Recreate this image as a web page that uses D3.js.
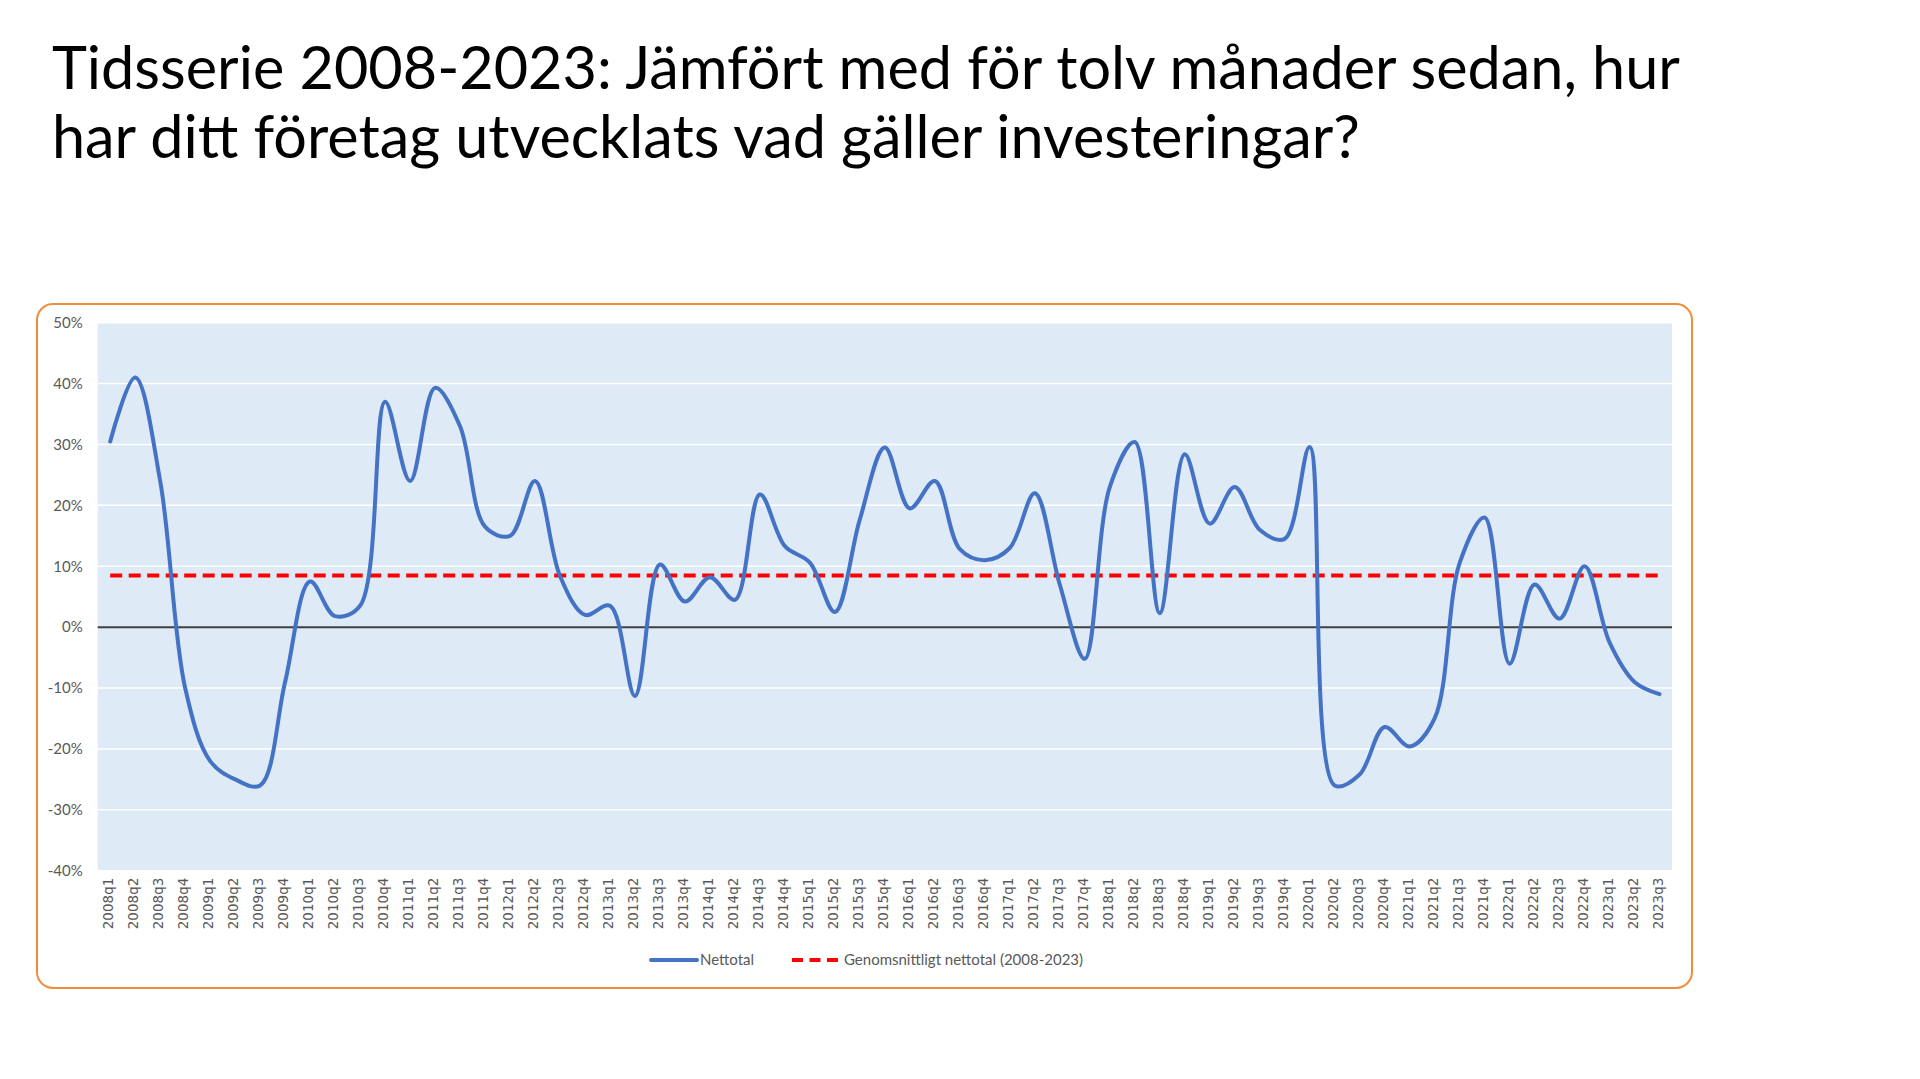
<!DOCTYPE html>
<html>
<head>
<meta charset="utf-8">
<script src="https://cdn.jsdelivr.net/npm/d3@7"></script>
<style>
  body { margin: 0; background: #ffffff; }
  svg { display: block; }
  .y-label { font-family: Lato, "Open Sans", sans-serif; font-size: 15px; fill: #595959; }
  .x-label { font-family: "DejaVu Sans", sans-serif; font-size: 13.5px; fill: #595959; }
  .legend-text { font-family: Lato, "Open Sans", sans-serif; font-size: 15px; fill: #595959; }
  .title { font-family: Lato, "Open Sans", sans-serif; fill: #000000; }
</style>
</head>
<body>
<svg id="svg" width="1920" height="1079"></svg>
<script>
// quarters on the x axis
var quarters = [
  "2008q1", "2008q2", "2008q3", "2008q4",
  "2009q1", "2009q2", "2009q3", "2009q4",
  "2010q1", "2010q2", "2010q3", "2010q4",
  "2011q1", "2011q2", "2011q3", "2011q4",
  "2012q1", "2012q2", "2012q3", "2012q4",
  "2013q1", "2013q2", "2013q3", "2013q4",
  "2014q1", "2014q2", "2014q3", "2014q4",
  "2015q1", "2015q2", "2015q3", "2015q4",
  "2016q1", "2016q2", "2016q3", "2016q4",
  "2017q1", "2017q2", "2017q3", "2017q4",
  "2018q1", "2018q2", "2018q3", "2018q4",
  "2019q1", "2019q2", "2019q3", "2019q4",
  "2020q1", "2020q2", "2020q3", "2020q4",
  "2021q1", "2021q2", "2021q3", "2021q4",
  "2022q1", "2022q2", "2022q3", "2022q4",
  "2023q1", "2023q2", "2023q3"
];

// Nettotal, in percent
var nettotal = [
  30.5, 41, 24, -10,
  -22, -25, -26, -9,
  7.5, 1.8, 3.5, 37,
  24, 39.3, 33, 16.5,
  15, 24, 8.4, 2,
  3.5, -11.3, 10.3, 4.2,
  8.2, 4.5, 21.8, 13.3,
  10.6, 2.5, 17.7, 29.5,
  19.5, 24, 12.8, 11,
  13, 22, 7, -5.2,
  23, 30.4, 2.3, 28.4,
  17, 23, 16, 14.5,
  29.6, -26, -24.2, -16.4,
  -19.6, -15, 10.5, 18,
  -6, 7, 1.4, 10,
  -2.5, -9, -11
];

// Genomsnittligt nettotal (2008-2023), in percent
var average = 8.5;

var yTicks = [-40, -30, -20, -10, 0, 10, 20, 30, 40, 50];

var titleLines = [
  "Tidsserie 2008-2023: Jämfört med för tolv månader sedan, hur",
  "har ditt företag utvecklats vad gäller investeringar?"
];

var seriesNames = ["Nettotal", "Genomsnittligt nettotal (2008-2023)"];

var blue = "#4472c4";
var red = "#ff0000";

var svg = d3.select("#svg");

// title
var drawTitle = function() {
    var fontSize = 66;
    var t1 = svg.append("text")
        .attr("class", "title")
        .attr("x", 52)
        .attr("y", 89)
        .attr("font-size", fontSize)
        .text(titleLines[0]);
    // fit line 1 to the width seen in the picture
    var w = t1.node().getComputedTextLength();
    fontSize = fontSize * 1628 / w;
    t1.attr("font-size", fontSize);
    svg.append("text")
        .attr("class", "title")
        .attr("x", 52)
        .attr("y", 158)
        .attr("font-size", fontSize)
        .text(titleLines[1]);
}

var drawChart = function() {
    var left = 97.7, right = 1672, top = 322.7, bottom = 870.7;

    // chart frame
    svg.append("rect")
        .attr("x", 37)
        .attr("y", 304)
        .attr("width", 1692 - 37)
        .attr("height", 988 - 304)
        .attr("rx", 16)
        .attr("fill", "#ffffff")
        .attr("stroke", "#f28c3a")
        .attr("stroke-width", 2);

    var xScale = d3.scalePoint()
        .domain(quarters)
        .range([left, right])
        .padding(0.5);

    var yScale = d3.scaleLinear()
        .domain([-40, 50])
        .range([bottom, top]);

    // plot background
    svg.append("rect")
        .attr("x", left)
        .attr("y", top)
        .attr("width", right - left)
        .attr("height", bottom - top)
        .attr("fill", "#deeaf6");

    // gridlines
    svg.append("g")
        .selectAll("line")
        .data(yTicks.filter(function(d) { return d !== 0; }))
        .enter()
        .append("line")
        .attr("x1", left)
        .attr("x2", right)
        .attr("y1", function(d) { return yScale(d); })
        .attr("y2", function(d) { return yScale(d); })
        .attr("stroke", "#ffffff")
        .attr("stroke-width", 1.5);

    // zero line
    svg.append("line")
        .attr("x1", left)
        .attr("x2", right)
        .attr("y1", yScale(0))
        .attr("y2", yScale(0))
        .attr("stroke", "#404040")
        .attr("stroke-width", 2);

    // y axis labels
    var yAxis = d3.axisLeft(yScale)
        .tickValues(yTicks)
        .tickSize(0)
        .tickPadding(15)
        .tickFormat(function(d) { return d + "%"; });
    var gy = svg.append("g")
        .attr("transform", "translate(" + left + ",0)")
        .call(yAxis);
    gy.select(".domain").remove();
    gy.selectAll("text")
        .attr("class", "y-label")
        .attr("font-family", null)
        .attr("font-size", null)
        .attr("fill", null);

    // x axis labels, rotated
    var xAxis = d3.axisBottom(xScale).tickSize(0);
    var gx = svg.append("g")
        .attr("transform", "translate(0," + bottom + ")")
        .call(xAxis);
    gx.select(".domain").remove();
    gx.selectAll("text")
        .attr("class", "x-label")
        .attr("font-family", null)
        .attr("font-size", null)
        .attr("fill", null)
        .attr("text-anchor", "end")
        .attr("transform", "translate(-2,7) rotate(-90)")
        .attr("x", 0)
        .attr("y", 0)
        .attr("dy", "0.35em");

    // average line
    svg.append("line")
        .attr("x1", xScale(quarters[0]))
        .attr("x2", xScale(quarters[quarters.length - 1]))
        .attr("y1", yScale(average))
        .attr("y2", yScale(average))
        .attr("stroke", red)
        .attr("stroke-width", 4)
        .attr("stroke-dasharray", "12,6.5");

    // nettotal line
    var line = d3.line()
        .x(function(d, i) { return xScale(quarters[i]); })
        .y(function(d) { return yScale(d); })
        .curve(d3.curveCatmullRom.alpha(0.5));

    svg.append("path")
        .datum(nettotal)
        .attr("d", line)
        .attr("fill", "none")
        .attr("stroke", blue)
        .attr("stroke-width", 4)
        .attr("stroke-linecap", "round")
        .attr("stroke-linejoin", "round");

    // legend
    var ly = 960;
    svg.append("line")
        .attr("x1", 651).attr("x2", 697)
        .attr("y1", ly).attr("y2", ly)
        .attr("stroke", blue)
        .attr("stroke-width", 4)
        .attr("stroke-linecap", "round");
    svg.append("text")
        .attr("class", "legend-text")
        .attr("x", 700)
        .attr("y", ly)
        .attr("dy", "0.35em")
        .text(seriesNames[0]);
    svg.append("line")
        .attr("x1", 792).attr("x2", 838)
        .attr("y1", ly).attr("y2", ly)
        .attr("stroke", red)
        .attr("stroke-width", 4)
        .attr("stroke-dasharray", "11,6.5");
    svg.append("text")
        .attr("class", "legend-text")
        .attr("x", 844)
        .attr("y", ly)
        .attr("dy", "0.35em")
        .text(seriesNames[1]);
}

drawTitle();
drawChart();
</script>
</body>
</html>
